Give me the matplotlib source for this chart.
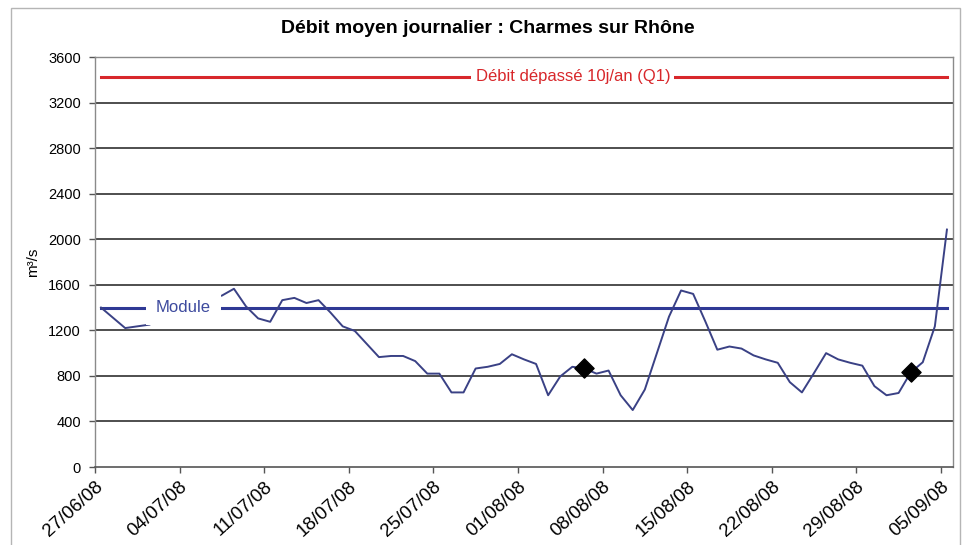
import numpy as np
import pandas as pd
import matplotlib
matplotlib.use("Agg")
import matplotlib.pyplot as plt
import matplotlib.transforms as mtransforms
from matplotlib.patches import Rectangle

plt.rcParams["font.family"] = ["Liberation Sans", "DejaVu Sans"]

# -------- Data --------
START_DATE = "2008-06-27"
N_DAYS = 71  # 27/06/08 -> 06/09/08 (axis end)

nan = np.nan
# daily mean flow, m3/s, one value per day from 27/06/08 to 05/09/08
debit = [1400, 1310, 1220, 1235, 1250, nan, nan, nan, nan, nan,
         1505, 1565, 1410, 1305, 1275, 1465, 1485, 1440, 1465, 1355,
         1235, 1195, 1080, 965, 975, 975, 930, 820, 820, 655,
         655, 865, 880, 905, 990, 945, 905, 630, 795, 880,
         865, 820, 847, 630, 500, 680, 1000, 1320, 1550, 1520,
         1280, 1030, 1058, 1040, 980, 945, 915, 745, 655, 825,
         1000, 945, 915, 890, 710, 630, 650, 830, 920, 1235,
         2085]

module = 1400
q1 = 3425

mesure_dates = ["2008-08-06", "2008-09-02"]
mesure_vals = [868, 830]

tick_labels = ["27/06/08", "04/07/08", "11/07/08", "18/07/08", "25/07/08",
               "01/08/08", "08/08/08", "15/08/08", "22/08/08", "29/08/08",
               "05/09/08"]
yticks = list(range(0, 3601, 400))

# -------- Colours --------
C_FLOW = "#3a4185"
C_MODULE = "#2f3995"
C_Q1 = "#d8272b"
C_GRID = "#1e1e1e"

# Excel date axis: points sit between tick marks (middle of each day)
day0 = pd.Timestamp(START_DATE)
days = pd.date_range(day0, periods=len(debit), freq="D") + pd.Timedelta(hours=12)
ticks = pd.to_datetime(tick_labels, format="%d/%m/%y")
m_dates = pd.to_datetime(mesure_dates) + pd.Timedelta(hours=12)

fig = plt.figure(figsize=(9.67, 5.45), dpi=100)
fig.patch.set_facecolor("white")
# outer chart border
fig.patches.append(Rectangle((0.011, -0.01), 0.982, 0.995, transform=fig.transFigure,
                             fill=False, edgecolor="#b5b5b5", linewidth=1.0))

ax = fig.add_axes([0.0982, 0.1431, 0.8873, 0.7523])

for v in yticks[1:]:
    ax.axhline(v, color=C_GRID, linewidth=1.1, zorder=1)

ax.plot(days, [q1] * len(days), color=C_Q1, linewidth=2.2, zorder=2)
ax.plot(days, [module] * len(days), color=C_MODULE, linewidth=2.2, zorder=2)
ax.plot(days, debit, color=C_FLOW, linewidth=1.4, zorder=3)
ax.scatter(m_dates, mesure_vals, marker="D", s=95, color="black", zorder=4)

blend = mtransforms.blended_transform_factory(ax.transAxes, ax.transData)
ax.text(0.557, q1, "Débit dépassé 10j/an (Q1)", transform=blend, color=C_Q1,
        fontsize=12, ha="center", va="center", zorder=5,
        bbox=dict(facecolor="white", edgecolor="none", boxstyle="square,pad=0.25"))
ax.text(0.103, module, "Module", transform=blend, color="#3d4a9e",
        fontsize=12, ha="center", va="center", zorder=5,
        bbox=dict(facecolor="white", edgecolor="none", boxstyle="square,pad=0.6"))

ax.set_xlim(day0, day0 + pd.Timedelta(days=N_DAYS))
ax.set_ylim(0, 3600)
ax.set_yticks(yticks)
ax.set_xticks(ticks)
ax.set_xticklabels(tick_labels, rotation=42, ha="right", va="top",
                   rotation_mode="anchor", fontsize=13.5)
shift = mtransforms.ScaledTranslation(6 / 100, 0, fig.dpi_scale_trans)
for lab in ax.get_xticklabels():
    lab.set_transform(lab.get_transform() + shift)
ax.tick_params(axis="y", labelsize=10.5, length=4, width=1, color="#555555", pad=6)
ax.tick_params(axis="x", length=4, width=1, color="#555555", pad=4)

for side in ["left", "right", "top"]:
    ax.spines[side].set_color("#8a8a8a")
    ax.spines[side].set_linewidth(1.0)
ax.spines["bottom"].set_color("#555555")
ax.spines["bottom"].set_linewidth(1.2)

ax.set_ylabel("m³/s", fontsize=11, labelpad=6)

fig.text(0.504, 0.947, "Débit moyen journalier : Charmes sur Rhône",
         fontsize=14, fontweight="bold", ha="center", va="center")

fig.savefig("out.png", dpi=100)
